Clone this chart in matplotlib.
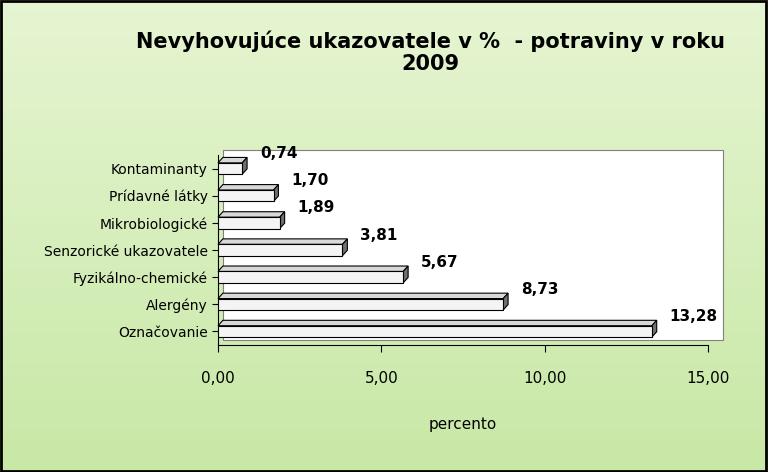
import matplotlib
matplotlib.use("Agg")
import matplotlib.pyplot as plt
import numpy as np
from matplotlib.patches import Polygon, Rectangle
from matplotlib.colors import LinearSegmentedColormap

categories = ["Označovanie", "Alergény", "Fyzikálno-chemické", "Senzorické ukazovatele",
              "Mikrobiologické", "Prídavné látky", "Kontaminanty"]
values = [13.28, 8.73, 5.67, 3.81, 1.89, 1.70, 0.74]
labels = ["13,28", "8,73", "5,67", "3,81", "1,89", "1,70", "0,74"]
xticks = [0, 5, 10, 15]
xticklabels = ["0,00", "5,00", "10,00", "15,00"]

fig = plt.figure(figsize=(7.68, 4.72), dpi=100)
bg = fig.add_axes([0, 0, 1, 1], zorder=-10)
grad = np.linspace(0, 1, 256).reshape(-1, 1)
cm = LinearSegmentedColormap.from_list("g", ["#e6f5d2", "#c8e8a6"])
bg.imshow(grad, aspect="auto", cmap=cm, extent=[0, 1, 0, 1])
bg.add_patch(Rectangle((0.001, 0.002), 0.997, 0.996, fill=False, lw=2, ec="black"))
bg.set_axis_off()

ax = fig.add_axes([218/768, 1-345/472, 490/768, 190/472])
ax.set_xlim(0, 15)
ax.set_ylim(-0.5, 6.5)
ax.patch.set_alpha(0)
dx, dy = 0.15, 0.2
ax.add_patch(Polygon([(dx, -0.5+dy), (15+dx*3, -0.5+dy), (15+dx*3, 6.5+dy), (dx, 6.5+dy)],
                     closed=True, fc="white", ec="#808080", lw=0.8, clip_on=False, zorder=0))
h = 0.42
for i, v in enumerate(values):
    y0 = i - h/2
    ax.add_patch(Polygon([(0, y0+h), (dx, y0+h+dy), (v+dx, y0+h+dy), (v, y0+h)],
                         fc="#d8d8d8", ec="black", lw=0.8, clip_on=False, zorder=2))
    ax.add_patch(Polygon([(v, y0), (v+dx, y0+dy), (v+dx, y0+h+dy), (v, y0+h)],
                         fc="#707070", ec="black", lw=0.8, clip_on=False, zorder=2))
    ax.barh(i, v, height=h, color="#f4f4f4", edgecolor="black", lw=0.8, zorder=3)
    ax.text(v + 0.55, i + 0.55, labels[i], ha="left", va="center", fontsize=11,
            fontweight="bold", zorder=5)
ax.set_yticks(range(len(categories)))
ax.set_yticklabels(categories, fontsize=10)
ax.set_xticks(xticks)
ax.set_xticklabels(xticklabels, fontsize=11)
ax.tick_params(axis="x", pad=14, length=5)
ax.tick_params(axis="y", length=4)
for s in ["top", "right"]:
    ax.spines[s].set_visible(False)
ax.set_xlabel("percento", fontsize=11, labelpad=22)
fig.text(430/768, 1-52/472, "Nevyhovujúce ukazovatele v %  - potraviny v roku\n2009",
         ha="center", va="center", fontsize=15, fontweight="bold", linespacing=1.1)
fig.savefig("out.png", dpi=100)
